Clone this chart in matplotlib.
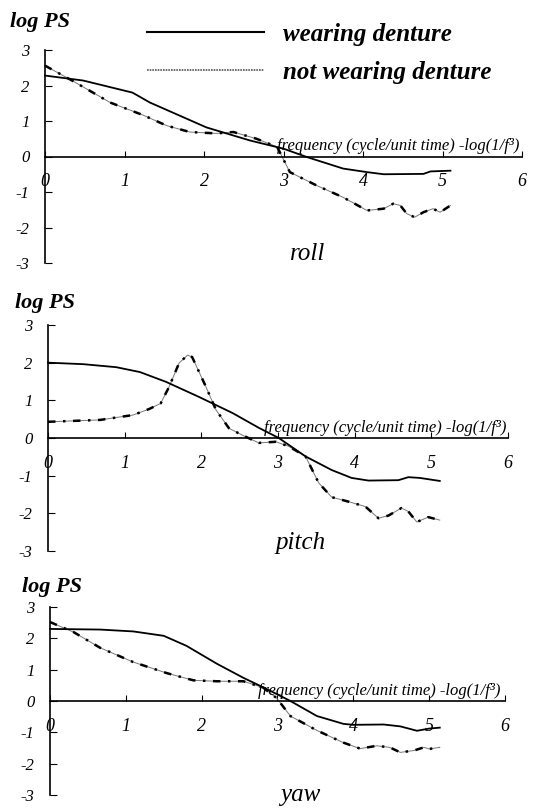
import matplotlib.pyplot as plt
from matplotlib.lines import Line2D

plt.rcParams['font.family'] = ['Liberation Serif', 'DejaVu Serif']
plt.rcParams['axes.unicode_minus'] = False

# roll
roll_wear_x = [0, 0.48, 1.1, 1.32, 2.03, 2.58, 3.0, 3.3, 3.75, 4.05, 4.26, 4.76, 4.85, 5.1]
roll_wear_y = [2.28, 2.14, 1.8, 1.52, 0.82, 0.45, 0.22, -0.02, -0.34, -0.44, -0.5, -0.49, -0.42, -0.4]
roll_not_x = [0, 0.34, 0.82, 1.24, 1.53, 1.82, 2.16, 2.37, 2.66, 2.92, 3.08, 3.42, 3.75, 4.05,
              4.26, 4.38, 4.47, 4.55, 4.65, 4.76, 4.88, 4.97, 5.1]
roll_not_y = [2.56, 2.14, 1.52, 1.16, 0.87, 0.69, 0.65, 0.69, 0.5, 0.27, -0.44, -0.82, -1.15, -1.52,
              -1.47, -1.33, -1.38, -1.61, -1.71, -1.57, -1.47, -1.57, -1.38]

# pitch
pitch_wear_x = [0, 0.46, 0.89, 1.2, 1.54, 1.97, 2.41, 2.75, 3.01, 3.36, 3.7, 3.96, 4.18, 4.57,
                4.7, 4.85, 5.11]
pitch_wear_y = [2.0, 1.96, 1.88, 1.75, 1.49, 1.09, 0.66, 0.27, 0.0, -0.49, -0.85, -1.06, -1.13, -1.12,
                -1.04, -1.06, -1.14]
pitch_not_x = [0, 0.68, 1.11, 1.32, 1.47, 1.58, 1.71, 1.82, 1.88, 2.06, 2.19, 2.36, 2.53, 2.75,
               2.97, 3.14, 3.36, 3.53, 3.7, 3.92, 4.14, 4.31, 4.44, 4.61, 4.7, 4.81, 4.96, 5.11]
pitch_not_y = [0.43, 0.48, 0.61, 0.77, 0.92, 1.36, 1.99, 2.2, 2.15, 1.36, 0.75, 0.26, 0.08, -0.13,
               -0.1, -0.22, -0.49, -1.19, -1.57, -1.69, -1.82, -2.13, -2.06, -1.86, -1.95, -2.23, -2.1, -2.18]

# yaw
yaw_wear_x = [0, 0.66, 1.1, 1.5, 1.8, 2.2, 2.55, 2.86, 3.17, 3.52, 3.87, 4.0, 4.4, 4.62, 4.84, 5.0, 5.14]
yaw_wear_y = [2.3, 2.28, 2.22, 2.08, 1.76, 1.19, 0.74, 0.38, 0.0, -0.48, -0.73, -0.76, -0.75, -0.81,
              -0.95, -0.88, -0.85]
yaw_not_x = [0, 0.31, 0.66, 1.1, 1.54, 1.89, 2.2, 2.55, 2.81, 2.99, 3.17, 3.52, 3.87, 4.09, 4.31,
             4.48, 4.62, 4.8, 4.93, 5.0, 5.14]
yaw_not_y = [2.52, 2.2, 1.7, 1.24, 0.89, 0.66, 0.63, 0.63, 0.43, 0.09, -0.48, -0.94, -1.33, -1.52,
             -1.43, -1.48, -1.64, -1.58, -1.48, -1.53, -1.48]

panels = [
    ('roll', roll_wear_x, roll_wear_y, roll_not_x, roll_not_y),
    ('pitch', pitch_wear_x, pitch_wear_y, pitch_not_x, pitch_not_y),
    ('yaw', yaw_wear_x, yaw_wear_y, yaw_not_x, yaw_not_y),
]

# axes rectangles in pixels: left, right, top(y=3), bottom(y=-3)
boxes = [(45, 522, 50, 263), (48, 508, 325, 551), (50, 505, 607, 795)]
logps_pos = [(10, 22), (15, 303), (22, 587)]
freq_x = [2.92, 2.82, 2.74]
name_y = [-2.75, -2.8, -3.0]

W, H = 542, 808
fig = plt.figure(figsize=(W / 100, H / 100), dpi=100)

for i, (name, wx, wy, nx, ny) in enumerate(panels):
    l, r, t, b = boxes[i]
    ax = fig.add_axes([l / W, 1 - b / H, (r - l) / W, (b - t) / H])
    ax.set_xlim(0, 6)
    ax.set_ylim(-3, 3)
    ax.spines['top'].set_visible(False)
    ax.spines['right'].set_visible(False)
    ax.spines['bottom'].set_position(('data', 0))
    ax.spines['left'].set_linewidth(1.2)
    ax.spines['bottom'].set_linewidth(1.2)
    ax.set_xticks(range(0, 7))
    ax.set_yticks(range(-3, 4))
    ax.tick_params(axis='x', direction='in', length=4, pad=12, labelsize=13)
    ax.tick_params(axis='y', direction='in', length=5, pad=11, labelsize=12)
    for lab in ax.get_xticklabels() + ax.get_yticklabels():
        lab.set_fontstyle('italic')
    ax.patch.set_alpha(0)

    ax.plot(nx, ny, color='#777777', lw=0.7, clip_on=False)
    ax.plot(nx, ny, color='black', lw=1.8, linestyle=(0, (3, 3, 1, 3)), clip_on=False)
    ax.plot(wx, wy, color='black', lw=1.3, clip_on=False)

    ax.text(freq_x[i], 0.06, 'frequency (cycle/unit time) -log(1/f\u00b3)', fontsize=12,
            style='italic', ha='left', va='bottom')
    ax.text(3.3, name_y[i], name, fontsize=18, style='italic', ha='center', va='center',
            clip_on=False)

    fig.text(logps_pos[i][0] / W, 1 - logps_pos[i][1] / H, 'log PS', fontsize=16,
             style='italic', weight='bold', ha='left', va='center')

handles = [Line2D([], [], color='black', lw=1.5),
           Line2D([], [], color='#555555', lw=1.2, linestyle=(0, (1, 0.6)))]
fig.legend(handles, ['wearing denture', 'not wearing denture'], loc='upper left',
           bbox_to_anchor=(124 / W, 1 - 0 / H), frameon=False,
           prop={'family': 'Liberation Serif', 'style': 'italic', 'weight': 'bold', 'size': 18},
           handlelength=4.7, handletextpad=0.75, labelspacing=0.6)

fig.savefig('out.png', dpi=100)
